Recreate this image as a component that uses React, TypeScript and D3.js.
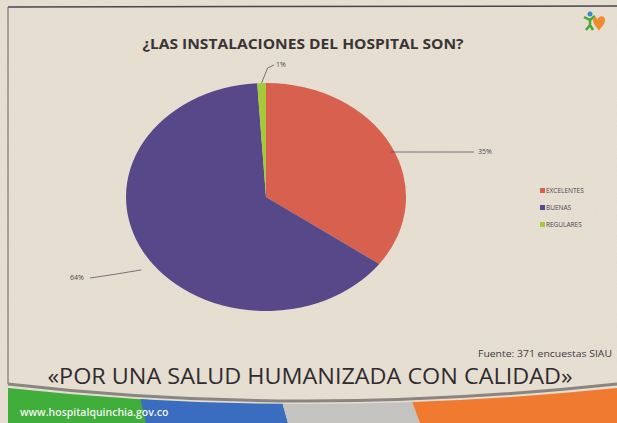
import React from "react";
import * as d3 from "d3";

// datos de la encuesta
const categories = ["EXCELENTES", "BUENAS", "REGULARES"];
const values = [35, 64, 1];
const percentLabels = ["35%", "64%", "1%"];
const sliceColors = ["#d7604f", "#574889", "#a6c93a"];

const W = 617;
const H = 423;

// geometría del pastel (ligeramente achatado como en la foto)
const cx = 266;
const cy = 197;
const rx = 140;
const ry = 114;

// posición de las etiquetas de porcentaje
const labelPos = [
  { x: 478, y: 154, anchor: "start" },
  { x: 70, y: 280, anchor: "start" },
  { x: 276, y: 67, anchor: "start" },
];

const App = () => {
  const pie = d3
    .pie<number>()
    .sort(null)
    .value((d) => d);
  const arcs = pie(values);
  const arc = d3.arc<d3.PieArcDatum<number>>().innerRadius(0).outerRadius(rx);

  // punto del borde en el ángulo medio
  const edge = (a: d3.PieArcDatum<number>) => {
    const m = (a.startAngle + a.endAngle) / 2;
    return [cx + rx * Math.sin(m), cy - ry * Math.cos(m)];
  };

  const leader = (i: number) => {
    const [ex, ey] = edge(arcs[i]);
    const lp = labelPos[i];
    if (i === 0) return `M${ex},${lp.y - 2}L${lp.x - 4},${lp.y - 2}`;
    if (i === 1)
      return `M${ex - 2},${ey + 18}Q${ex - 25},${ey + 22} ${lp.x + 20},${lp.y - 2}`;
    return `M${ex},${ey}L${ex + 6},${lp.y + 1}L${lp.x - 2},${lp.y - 2}`;
  };

  const legendY = d3.scalePoint<string>().domain(categories).range([193, 227]);

  return (
    <svg
      width={W}
      height={H}
      style={{ position: "absolute", left: 0, top: 0 }}
      fontFamily="'Open Sans', sans-serif"
    >
      <defs>
        <filter id="paper">
          <feTurbulence type="fractalNoise" baseFrequency="0.9" numOctaves="2" seed="3" />
          <feColorMatrix
            type="matrix"
            values="0 0 0 0 0.55  0 0 0 0 0.5  0 0 0 0 0.42  0 0 0 0.18 0"
          />
        </filter>
      </defs>
      <rect width={W} height={H} fill="#e9e1d3" />
      <rect width={W} height={H} filter="url(#paper)" />

      {/* marco */}
      <line x1={8} y1={7} x2={W} y2={6} stroke="#4a4450" strokeWidth={1.5} />
      <line x1={8} y1={7} x2={8} y2={384} stroke="#6a6560" strokeWidth={1} />

      {/* logo */}
      <g transform="translate(593,20)">
        <circle cx={-3} cy={-6} r={2.5} fill="#3a8ad0" />
        <path d="M-9,-3L-3,0L2,-4M-3,0L-3,5L-7,10M-3,5L0,10" stroke="#4aa83a" strokeWidth={2.5} fill="none" />
        <path d="M4,0c2,-5 8,-5 8,0c0,5 -5,8 -6,11c-1,-3 -6,-6 -6,-11c0,-4 4,-4 4,0z" fill="#f08a30" />
      </g>

      <text
        x={303}
        y={49}
        textAnchor="middle"
        fontSize={14.5}
        fontWeight={700}
        fill="#3a3535"
        textLength={321}
        lengthAdjust="spacingAndGlyphs"
      >
        ¿LAS INSTALACIONES DEL HOSPITAL SON?
      </text>

      {/* pastel */}
      <g transform={`translate(${cx},${cy}) scale(1,${ry / rx})`}>
        {arcs.map((a, i) => (
          <path key={categories[i]} d={arc(a) || ""} fill={sliceColors[i]} />
        ))}
      </g>

      {arcs.map((a, i) => (
        <g key={"l" + i}>
          <path d={leader(i)} stroke="#5a5560" strokeWidth={0.8} fill="none" />
          <text
            x={labelPos[i].x}
            y={labelPos[i].y}
            fontSize={7}
            fill="#4a4550"
            textAnchor={labelPos[i].anchor}
          >
            {percentLabels[i]}
          </text>
        </g>
      ))}

      {/* leyenda */}
      {categories.map((c, i) => (
        <g key={c} transform={`translate(540,${legendY(c)})`}>
          <rect x={0} y={-5} width={5} height={5} fill={sliceColors[i]} />
          <text x={6} y={0} fontSize={6.5} fill="#4a4550">
            {c}
          </text>
        </g>
      ))}

      <text
        x={612}
        y={357}
        textAnchor="end"
        fontSize={9}
        fill="#3f3a45"
        textLength={134}
        lengthAdjust="spacingAndGlyphs"
      >
        Fuente: 371 encuestas SIAU
      </text>

      <text
        x={310}
        y={384}
        textAnchor="middle"
        fontSize={22}
        fill="#2f2b30"
        textLength={525}
        lengthAdjust="spacingAndGlyphs"
      >
        «POR UNA SALUD HUMANIZADA CON CALIDAD»
      </text>

      {/* franja inferior */}
      <clipPath id="band">
        <path d={`M8,388Q300,420 ${W},388L${W},${H}L8,${H}Z`} />
      </clipPath>
      <g clipPath="url(#band)">
        <rect x={8} y={380} width={140} height={50} fill="#3fae3a" />
        <path d={`M136,380L276,380L288,${H}L146,${H}Z`} fill="#3a6cc0" />
        <path d={`M276,380L404,380L420,${H}L288,${H}Z`} fill="#c5c3c0" />
        <path d={`M404,380L${W},380L${W},${H}L420,${H}Z`} fill="#ef7a30" />
      </g>
      <path d={`M8,384Q300,418 ${W},384`} stroke="#8a8580" strokeWidth={3} fill="none" />
      <text x={20} y={416} fontSize={10.5} fill="#f4f4f0" fontWeight={600}>
        www.hospitalquinchia.gov.co
      </text>
    </svg>
  );
};

export default App;
